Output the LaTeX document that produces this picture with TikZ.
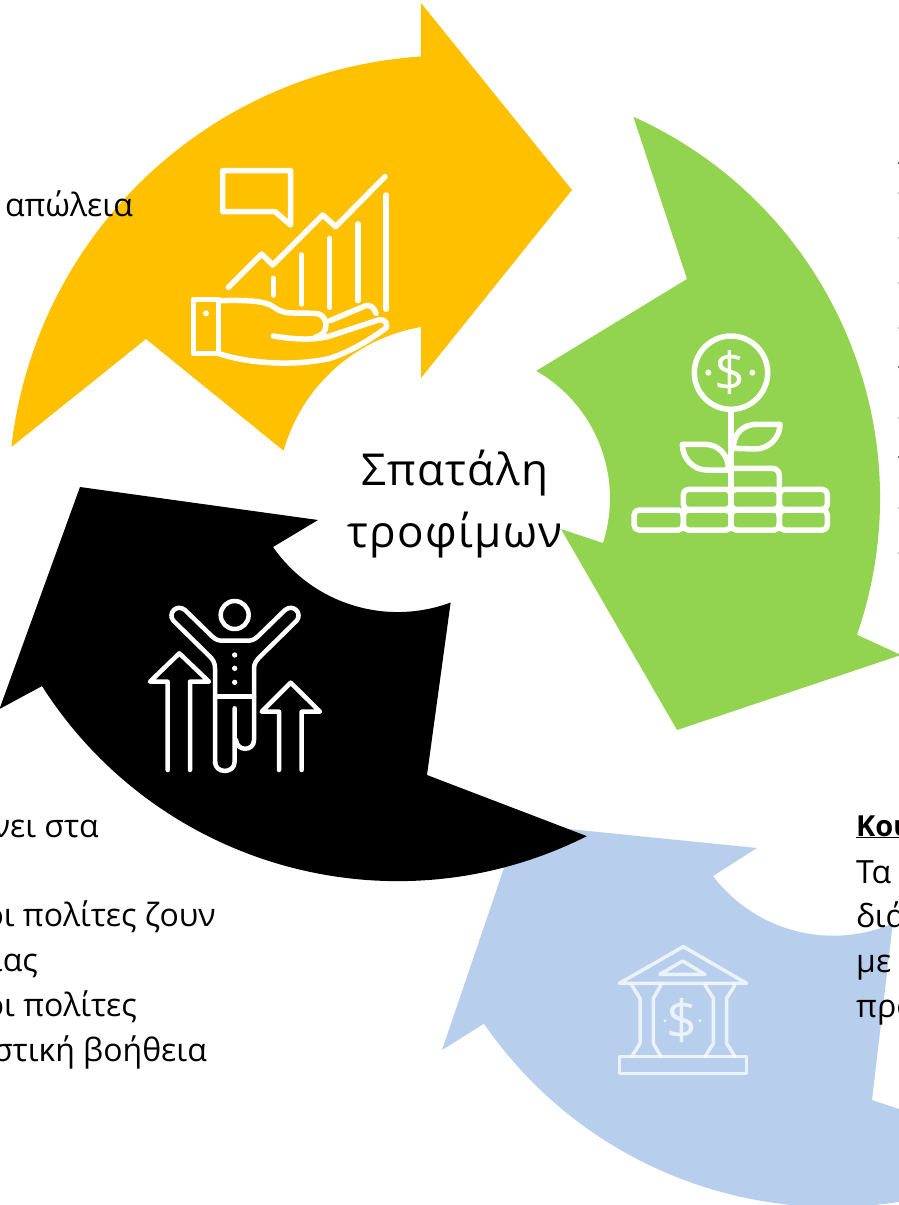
\documentclass[tikz,border=0pt]{standalone}
\usepackage{fontspec}
\setmainfont{Open Sans}
\newfontfamily\spacedfont[LetterSpace=3]{Open Sans}
\definecolor{arrowyellow}{HTML}{FFC000}
\definecolor{arrowgreen}{HTML}{92D350}
\definecolor{arrowblue}{HTML}{B7CFEC}
\tikzset{
  iconline/.style={draw=white,line width=#1,line cap=round,line join=round},
  iconline/.default=5.5pt,
  bodytext/.style={anchor=base east,inner sep=0pt,font=\fontsize{32}{36}\selectfont},
  righttext/.style={anchor=base west,inner sep=0pt,font=\fontsize{32}{36}\selectfont},
  dollar/.style={text=white,inner sep=0pt,font=\fontsize{54}{54}\selectfont}
}
\begin{document}
\begin{tikzpicture}[x=1pt,y=-1pt]
  \useasboundingbox (0,0) rectangle (899,1205);
  \clip (0,0) rectangle (899,1205);
  \fill[white] (0,0) rectangle (899,1205);

  \fill[arrowyellow] (450,497) ++(186.5:441.5) arc[start angle=186.5,end angle=266.2,radius=441.5]
    -- (421,3) -- (572,190) -- (421,378) -- (421,327)
    arc[start angle=260.3,end angle=195.7,radius=173] -- (146,339) -- cycle;
  \fill[arrowgreen] (462,498) ++(-65.8:418) arc[start angle=-65.8,end angle=19.1,radius=418]
    -- (901,655) -- (677,730) -- (561,529) -- (603,543)
    arc[start angle=17.7,end angle=-60.1,radius=147] -- (687,279) -- cycle;
  \fill[arrowblue] (833,783) ++(70:424) arc[start angle=70,end angle=145.4,radius=424]
    -- (442,1050) -- (519,824) -- (757,848) -- (713,876)
    arc[start angle=142.8,end angle=66.8,radius=151] -- (872,1100) -- (980,1136) -- cycle;
  \fill[black] (397.5,459.6) ++(63.3:421.5) arc[start angle=63.3,end angle=147.5,radius=421.5]
    -- (-0.5,709) -- (80,487) -- (318,520) -- (273,547)
    arc[start angle=145.1,end angle=69.6,radius=152] -- (427,775) -- cycle;

  \node[align=center,inner sep=0pt,font=\spacedfont\fontsize{44}{62}\selectfont] (title) at (455,504) {Σπατάλη\\τροφίμων};

  \node[bodytext] (lossline) at (133,216) {απώλεια};
  \node[bodytext] (leftone) at (99,837) {νει στα};
  \node[bodytext] (lefttwo) at (216,926) {οι πολίτες ζουν};
  \node[bodytext] (leftthree) at (38,971) {ιας};
  \node[bodytext] (leftfour) at (137,1016) {οι πολίτες};
  \node[bodytext] (leftfive) at (207,1061) {στική βοήθεια};

  \node[righttext,font=\fontsize{29}{36}\selectfont] (bankhead) at (856,836) {\underline{\textbf{Κου}}};
  \node[righttext] (rightone) at (856,883) {Τα};
  \node[righttext] (righttwo) at (856,927) {διά};
  \node[righttext] (rightthree) at (856,972) {με};
  \node[righttext] (rightfour) at (856,1017) {προ};

  \foreach \y/\g in {163/70,193/25,238/25,283/25,328/25,367/60,418/25,457/60,508/25,553/25}
    \fill[black!\g] (898.5,\y) circle[radius=1];

  \begin{scope}[shift={(170,150)},scale=1/3]
    \draw[iconline] (158,62) -- (362,62) -- (362,225) -- (315,185) -- (158,185) -- cycle;
    \draw[iconline] (175,412) -- (275,312) -- (308,345) -- (458,195) -- (497,230) -- (645,80);
    \draw[iconline] (310,385) -- (310,435);
    \draw[iconline] (394,315) -- (394,462);
    \draw[iconline] (479,265) -- (479,472);
    \draw[iconline] (564,222) -- (564,452);
    \draw[iconline] (648,135) -- (648,478);
    \draw[iconline] (70,448) rectangle (145,610);
    \fill[white] (108,490) circle[radius=9];
    \draw[iconline] (145,452) .. controls (230,450) and (285,452) .. (310,470) .. controls (330,485) and (345,489) .. (370,489) -- (435,490) .. controls (455,490) and (468,505) .. (468,525) .. controls (468,545) and (455,558) .. (435,562);
    \draw[iconline] (310,558) .. controls (370,568) and (430,572) .. (480,558) -- (625,510) .. controls (650,505) and (660,530) .. (640,540) .. controls (590,575) and (540,605) .. (480,625) .. controls (370,650) and (230,640) .. (145,610);
    \draw[iconline] (480,512) -- (585,468) .. controls (600,462) and (612,472) .. (618,490);
  \end{scope}

  \begin{scope}[shift={(620,320)},scale=1/3]
    \draw[iconline] (333,158) circle[radius=110];
    \fill[white] (265,158) circle[radius=9] (397,158) circle[radius=9];
    \node[dollar] (plantdollar) at (330,158) {\$};
    \draw[iconline] (333,270) -- (333,620);
    \draw[iconline] (340,385) .. controls (340,340) and (370,313) .. (410,313) -- (480,313) .. controls (480,355) and (445,387) .. (405,387) -- cycle;
    \draw[iconline] (325,445) .. controls (325,405) and (295,373) .. (255,373) -- (187,373) .. controls (187,415) and (220,450) .. (260,450) -- (325,450);
    \draw[iconline,rounded corners=7pt] (333,445) -- (478,445) -- (478,505);
    \foreach \a/\b in {190/333,333/478,478/622}
      \draw[iconline,rounded corners=5pt] (\a,508) rectangle (\b,568);
    \foreach \a/\b in {42/190,190/333,333/478,478/622}
      \draw[iconline,rounded corners=5pt] (\a,570) rectangle (\b,630);
  \end{scope}

  \begin{scope}[shift={(130,580)},scale=1/3]
    \draw[iconline=4.5pt] (314,105) circle[radius=42];
    \draw[iconline=4.5pt] (255,550) -- (255,265) .. controls (255,250) and (250,240) .. (240,230) -- (130,122) .. controls (112,100) and (140,70) .. (165,90) -- (245,168) .. controls (258,180) and (265,182) .. (280,182) -- (350,182) .. controls (365,182) and (372,180) .. (385,168) -- (465,90) .. controls (490,70) and (518,100) .. (500,122) -- (390,230) .. controls (380,240) and (372,250) .. (372,265) -- (372,480) .. controls (372,515) and (320,515) .. (318,480);
    \draw[iconline=4.5pt] (255,545) .. controls (255,582) and (314,582) .. (314,545) -- (314,385);
    \draw[iconline=4.5pt] (255,350) -- (372,350);
    \fill[white] (314,225) circle[radius=8] (314,265) circle[radius=8] (314,307) circle[radius=8];
    \draw[iconline=4.5pt] (113,570) -- (113,305) -- (60,305) -- (148,220) -- (237,305) -- (180,305) -- (180,570);
    \draw[iconline=4.5pt] (447,570) -- (447,395) -- (395,395) -- (482,308) -- (570,395) -- (515,395) -- (515,570);
  \end{scope}

  \begin{scope}[shift={(600,930)},scale=1/3,opacity=0.75]
    \draw[iconline=3.5pt] (58,160) -- (250,50) -- (440,160) -- cycle;
    \draw[iconline=3.5pt] (180,133) -- (248,93) -- (315,133) -- cycle;
    \draw[iconline=3.5pt] (95,165) -- (120,205) -- (120,340) -- (95,380);
    \draw[iconline=3.5pt] (183,165) -- (160,205) -- (160,340) -- (183,380);
    \draw[iconline=3.5pt] (315,165) -- (340,205) -- (340,340) -- (315,380);
    \draw[iconline=3.5pt] (405,165) -- (380,205) -- (380,340) -- (405,380);
    \draw[iconline=3.5pt] (58,380) rectangle (440,430);
    \fill[white] (195,272) circle[radius=5] (300,272) circle[radius=5];
    \node[dollar] (bankdollar) at (247,272) {\$};
  \end{scope}
\end{tikzpicture}
\end{document}
